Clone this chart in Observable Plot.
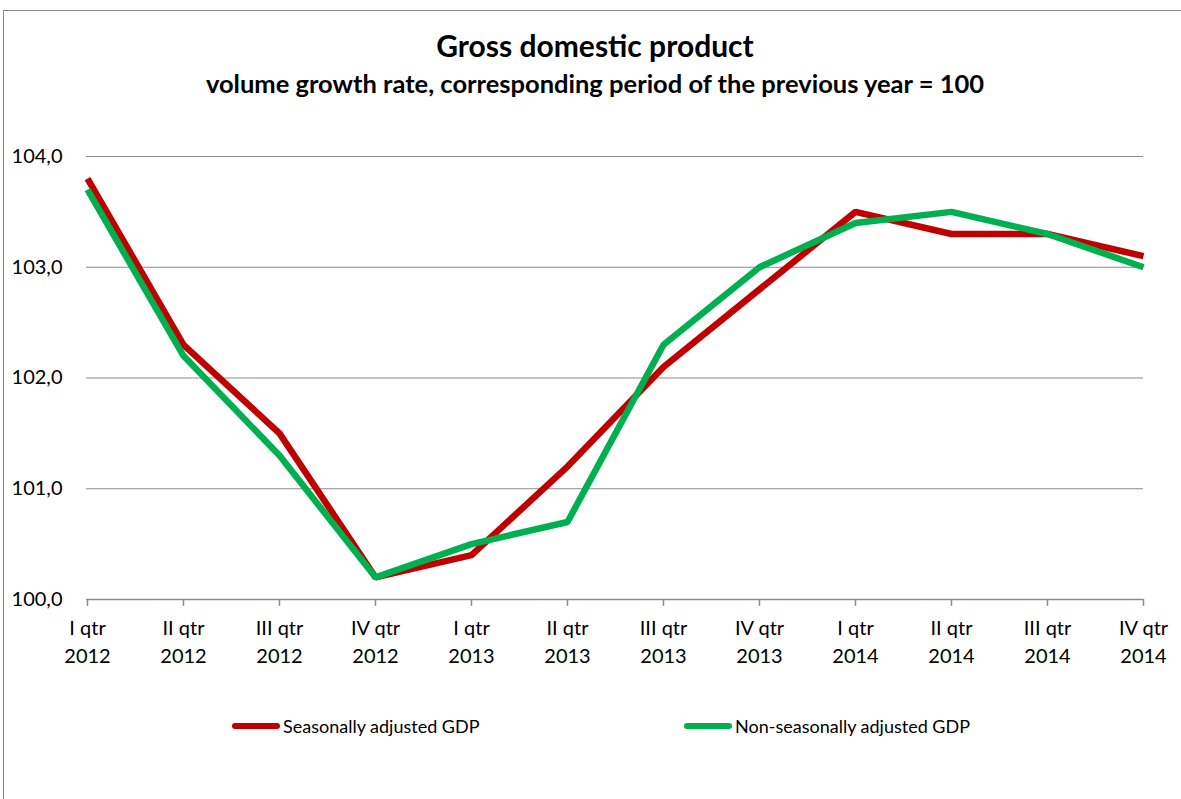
<!DOCTYPE html>
<html>
<head>
<meta charset="utf-8">
<script src="https://cdn.jsdelivr.net/npm/d3@7"></script>
<script src="https://cdn.jsdelivr.net/npm/@observablehq/plot@0.6"></script>
<style>
  body { margin: 0; background: #fff; font-family: Lato, "Open Sans", sans-serif; }
  #frame { position: relative; width: 1181px; height: 799px; overflow: hidden; background: #fff; }
  #border { position: absolute; left: 3px; top: 10px; width: 1300px; height: 900px; border-left: 1px solid #888; border-top: 1px solid #888; }
  #title { position: absolute; left: 0; width: 1190px; top: 27px; text-align: center; font-weight: bold; font-size: 30px; color: #000; }
  #subtitle { position: absolute; left: 0; width: 1190px; top: 68px; text-align: center; font-weight: bold; font-size: 25.5px; color: #000; }
  #chart { position: absolute; left: 0; top: 130px; }
  .leg { position: absolute; top: 715px; font-size: 18px; color: #000; display: flex; align-items: center; }
  .sw { display: inline-block; width: 48px; height: 6px; border-radius: 3px; margin-right: 3px; }
</style>
</head>
<body>
<div id="frame">
  <div id="border"></div>
  <div id="title">Gross domestic product</div>
  <div id="subtitle">volume growth rate, corresponding period of the previous year = 100</div>
  <div id="chart"></div>
  <div class="leg" style="left:232px"><span class="sw" style="background:#C00000"></span>Seasonally adjusted GDP</div>
  <div class="leg" style="left:684px"><span class="sw" style="background:#00B050"></span>Non-seasonally adjusted GDP</div>
</div>
<script>
const quarters = ["I qtr","II qtr","III qtr","IV qtr","I qtr","II qtr","III qtr","IV qtr","I qtr","II qtr","III qtr","IV qtr"];
const years = ["2012","2012","2012","2012","2013","2013","2013","2013","2014","2014","2014","2014"];
const seasonal = [103.8, 102.3, 101.5, 100.2, 100.4, 101.2, 102.1, 102.8, 103.5, 103.3, 103.3, 103.1];
const nonSeasonal = [103.7, 102.2, 101.3, 100.2, 100.5, 100.7, 102.3, 103.0, 103.4, 103.5, 103.3, 103.0];
const yTicks = [100, 101, 102, 103, 104];

const labels = quarters.map((q, i) => q + "\n" + years[i]);
const rows = [];
labels.forEach((l, i) => rows.push({period: l, value: seasonal[i], series: "Seasonally adjusted GDP"}));
labels.forEach((l, i) => rows.push({period: l, value: nonSeasonal[i], series: "Non-seasonally adjusted GDP"}));

const chart = Plot.plot({
  width: 1181,
  height: 560,
  marginTop: 26,
  marginBottom: 91,
  marginLeft: 86,
  marginRight: 38,
  style: {fontFamily: "Lato, 'Open Sans', sans-serif", fontSize: "20px", color: "#000", background: "transparent"},
  x: {type: "point", domain: labels, padding: 0},
  y: {domain: [100, 104], ticks: yTicks},
  color: {domain: ["Seasonally adjusted GDP", "Non-seasonally adjusted GDP"], range: ["#C00000", "#00B050"]},
  marks: [
    Plot.gridY(yTicks.filter(d => d > 100), {stroke: "#8c8c8c", strokeOpacity: 1, strokeWidth: 1.2}),
    Plot.axisY(yTicks, {tickSize: 0, tickPadding: 24, label: null, tickFormat: d => d.toFixed(1).replace(".", ","), fontSize: 20}),
    Plot.ruleY([100], {stroke: "#8c8c8c", strokeWidth: 1.5}),
    Plot.axisX({tickSize: 7, stroke: "#8c8c8c", strokeWidth: 1.5, tickPadding: 9, label: null, fontSize: 20, lineHeight: 1.4}),
    Plot.lineY(rows, {x: "period", y: "value", z: "series", stroke: "series", strokeWidth: 6.5, strokeLinejoin: "miter", strokeLinecap: "butt"})
  ]
});
document.getElementById("chart").appendChild(chart);
</script>
</body>
</html>
